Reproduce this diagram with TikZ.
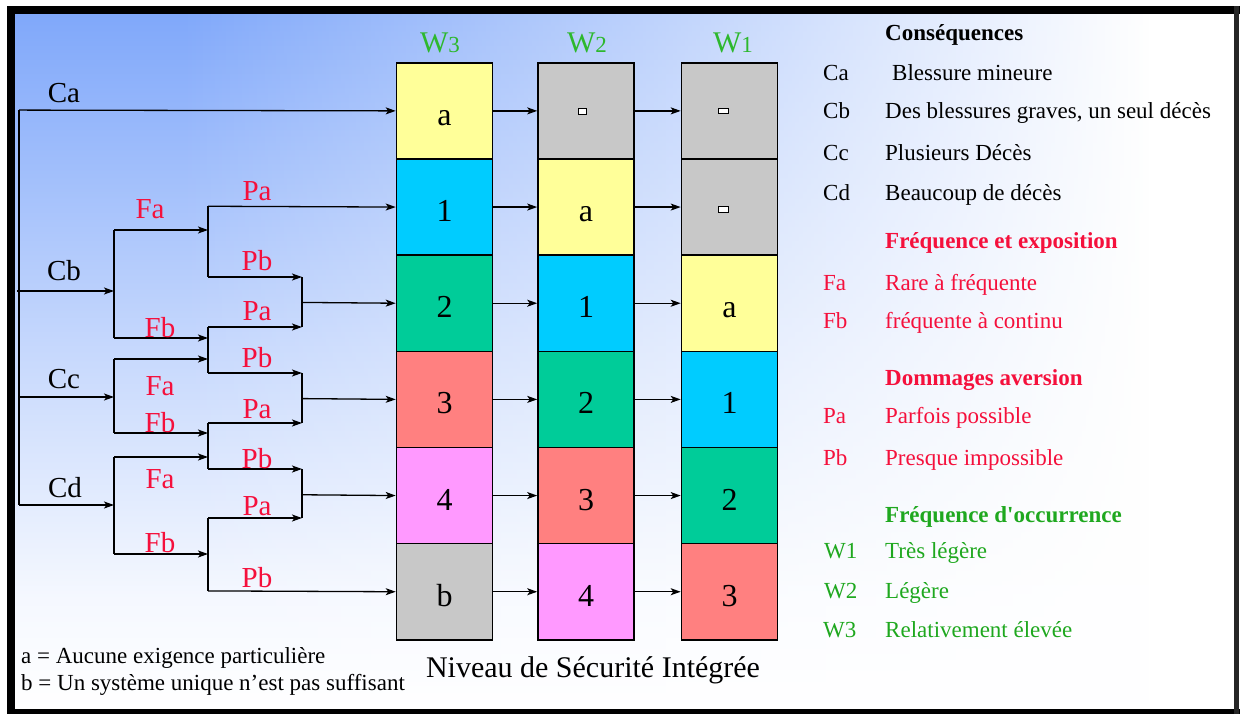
\documentclass[tikz,border=0pt]{standalone}
\usepackage{fontspec}
\setmainfont{Liberation Serif}
% same face without TeX quote ligatures, for the straight apostrophe
\newfontfamily\rawserif{Liberation Serif}
\usetikzlibrary{arrows.meta,fadings}

\definecolor{bgblue}{HTML}{80A8FA}
\definecolor{cyel}{HTML}{FFFF99}
\definecolor{ccyan}{HTML}{00CCFF}
\definecolor{cgreen}{HTML}{00CC99}
\definecolor{csalmon}{HTML}{FF8080}
\definecolor{cpink}{HTML}{FF99FF}
\definecolor{cgray}{HTML}{C8C8C8}
\definecolor{lred}{HTML}{F5103C}
\definecolor{lgreen}{HTML}{1FA81F}
\definecolor{wgreen}{HTML}{2DB82D}

% panel background: blue at the top, white towards the bottom
\pgfdeclareverticalshading{bgvert}{100bp}{color(0bp)=(white); color(25bp)=(white);
  color(33bp)=(bgblue!8); color(51bp)=(bgblue!45); color(75bp)=(bgblue); color(100bp)=(bgblue)}
% and fading to white towards the right
\tikzfading[name=towhite, left color=transparent!100, right color=transparent!0]

\tikzset{
  ln/.style={line width=1.3pt},
  arr/.style={line width=1.3pt, -{Stealth[length=10pt,width=7pt,inset=2.5pt]}},
  lbl/.style={anchor=base, inner sep=0pt, font=\fontsize{29}{34}\selectfont},
  clbl/.style={lbl, text=black},
  rlbl/.style={lbl, text=lred},
  cell/.style={draw=black, line width=1.6pt, minimum width=96pt, minimum height=96.17pt,
    inner sep=0pt, anchor=north, text height=29pt, text depth=0pt,
    font=\fontsize{32}{38}\selectfont},
  emptymark/.style={draw=black, fill=white, line width=1pt, inner sep=0pt},
  wlbl/.style={anchor=base, inner sep=0pt, text=wgreen, font=\fontsize{30}{36}\selectfont},
  legk/.style={anchor=base west, inner sep=0pt, font=\fontsize{23}{27}\selectfont},
  legh/.style={anchor=base west, inner sep=0pt, font=\fontsize{23}{27}\selectfont\bfseries},
  note/.style={anchor=base west, inner sep=0pt, font=\fontsize{23}{27}\selectfont},
}

\begin{document}
\begin{tikzpicture}[x=1pt,y=-1pt]
\useasboundingbox (0,0) rectangle (1242,715);
\fill[white] (0,0) rectangle (1242,715);

% background of the panel
\shade[shading=bgvert] (15,14) rectangle (1234,709);
\fill[white, path fading=towhite] (180,14) rectangle (1150,709);
\fill[white] (1149,14) rectangle (1234,709);

% frame
\fill[black] (7,6) rectangle (1240,14);
\fill[black] (7,6) rectangle (15,714);
\fill[black] (7,709) rectangle (1240,714);
\fill[black!85] (1234,6) rectangle (1239,714);

% columns of integrity levels
\foreach \txt/\col [count=\i] in {a/cyel,1/ccyan,2/cgreen,3/csalmon,4/cpink,b/cgray}
  \node[cell, fill=\col] (w3r\i) at (444.5,{62+(\i-1)*96.17}) {\txt};
\foreach \txt/\col [count=\i] in {/cgray,a/cyel,1/ccyan,2/cgreen,3/csalmon,4/cpink}
  \node[cell, fill=\col] (w2r\i) at (586,{62+(\i-1)*96.17}) {\txt};
\foreach \txt/\col [count=\i] in {/cgray,/cgray,a/cyel,1/ccyan,2/cgreen,3/csalmon}
  \node[cell, fill=\col] (w1r\i) at (729.5,{62+(\i-1)*96.17}) {\txt};

% small marks in the empty cells
\node[emptymark, minimum width=8pt, minimum height=6pt] (m21) at (582,111) {};
\node[emptymark, minimum width=10pt, minimum height=5pt] (m11) at (723,110.5) {};
\node[emptymark, minimum width=10pt, minimum height=6pt] (m12) at (723,209) {};

% column headings
\node[wlbl] (hw3) at (440,52) {W{\fontsize{23}{27}\selectfont 3}};
\node[wlbl] (hw2) at (587,52) {W{\fontsize{23}{27}\selectfont 2}};
\node[wlbl] (hw1) at (733,52) {W{\fontsize{23}{27}\selectfont 1}};

% arrows between columns
\foreach \i in {1,...,6} {
  \draw[arr] (w3r\i.east) -- (w2r\i.west);
  \draw[arr] (w2r\i.east) -- (w1r\i.west);
}

% ---- decision tree ----
% trunk and consequence branches
\coordinate (t1) at (19,110.08);
\coordinate (t2) at (17,291);
\coordinate (t3) at (19,397);
\coordinate (t4) at (19,505);
\coordinate (b1) at (114,291);  \coordinate (b1u) at (114,230); \coordinate (b1d) at (114,338);
\coordinate (c1) at (114,397);  \coordinate (c1u) at (114,359); \coordinate (c1d) at (114,433);
\coordinate (d1) at (114,505);  \coordinate (d1u) at (114,457); \coordinate (d1d) at (114,554);
% frequency branches end on the avoidance splitters
\coordinate (v1u) at (208,206.25); \coordinate (v1d) at (208,277);
\coordinate (v2u) at (208,327);    \coordinate (v2d) at (208,373);
\coordinate (v3u) at (208,423);    \coordinate (v3d) at (208,469);
\coordinate (v4u) at (208,518);    \coordinate (v4d) at (208,590.9);
\coordinate (f1) at (208,230); \coordinate (f2) at (208,338);
\coordinate (f3) at (208,359); \coordinate (f4) at (208,433);
\coordinate (f5) at (208,457); \coordinate (f6) at (208,554);
% merging points
\coordinate (j1u) at (302,277); \coordinate (j1d) at (302,327); \coordinate (j1) at (302,302.42);
\coordinate (j2u) at (302,373); \coordinate (j2d) at (302,423); \coordinate (j2) at (302,398.59);
\coordinate (j3u) at (302,469); \coordinate (j3d) at (302,518); \coordinate (j3) at (302,494.76);

\draw[ln] (t1) -- (t4);
\draw[arr] (t1) -- (w3r1.west);
\draw[arr] (t2) -- (b1);
\draw[arr] (t3) -- (c1);
\draw[arr] (t4) -- (d1);

\draw[ln] (b1u) -- (b1d);
\draw[ln] (c1u) -- (c1d);
\draw[ln] (d1u) -- (d1d);

\draw[arr] (b1u) -- (f1);
\draw[arr] (b1d) -- (f2);
\draw[arr] (c1u) -- (f3);
\draw[arr] (c1d) -- (f4);
\draw[arr] (d1u) -- (f5);
\draw[arr] (d1d) -- (f6);

\draw[ln] (v1u) -- (v1d);
\draw[ln] (v2u) -- (v2d);
\draw[ln] (v3u) -- (v3d);
\draw[ln] (v4u) -- (v4d);

\draw[arr] (v1u) -- (w3r2.west);
\draw[arr] (v1d) -- (j1u);
\draw[arr] (v2u) -- (j1d);
\draw[arr] (v2d) -- (j2u);
\draw[arr] (v3u) -- (j2d);
\draw[arr] (v3d) -- (j3u);
\draw[arr] (v4u) -- (j3d);
\draw[arr] (v4d) -- (w3r6.west);

\draw[ln] (j1u) -- (j1d);
\draw[ln] (j2u) -- (j2d);
\draw[ln] (j3u) -- (j3d);
\draw[arr] (j1) -- (w3r3.west);
\draw[arr] (j2) -- (w3r4.west);
\draw[arr] (j3) -- (w3r5.west);

% branch labels
\node[clbl] (lca) at (64,102) {Ca};
\node[clbl] (lcb) at (64,280) {Cb};
\node[clbl] (lcc) at (64,388) {Cc};
\node[clbl] (lcd) at (65,497) {Cd};
\node[rlbl] (lfa1) at (150,218) {Fa};
\node[rlbl] (lfb1) at (160,337) {Fb};
\node[rlbl] (lfa2) at (160,395) {Fa};
\node[rlbl] (lfb2) at (160,432) {Fb};
\node[rlbl] (lfa3) at (160,488) {Fa};
\node[rlbl] (lfb3) at (160,552) {Fb};
\node[rlbl] (lpa1) at (257,200) {Pa};
\node[rlbl] (lpb1) at (257,270) {Pb};
\node[rlbl] (lpa2) at (257,320) {Pa};
\node[rlbl] (lpb2) at (257,367) {Pb};
\node[rlbl] (lpa3) at (257,418) {Pa};
\node[rlbl] (lpb3) at (257,468) {Pb};
\node[rlbl] (lpa4) at (257,515) {Pa};
\node[rlbl] (lpb4) at (257,587) {Pb};

% notes and caption
\node[note] (na) at (21,663) {a = Aucune exigence particulière};
\node[note] (nb) at (21,690) {b = Un système unique n’est pas suffisant};
\node[anchor=base, inner sep=0pt, font=\fontsize{30}{36}\selectfont] (cap) at (593,677) {Niveau de Sécurité Intégrée};

% legend
\node[legh] (g1) at (885,40) {Conséquences};
\node[legk] (k1) at (823,80) {Ca};  \node[legk] (e1) at (892,80) {Blessure mineure};
\node[legk] (k2) at (823,118) {Cb}; \node[legk] (e2) at (885,118) {Des blessures graves, un seul décès};
\node[legk] (k3) at (823,160) {Cc}; \node[legk] (e3) at (885,160) {Plusieurs Décès};
\node[legk] (k4) at (823,200) {Cd}; \node[legk] (e4) at (885,200) {Beaucoup de décès};

\node[legh, text=lred] (g2) at (885,248) {Fréquence et exposition};
\node[legk, text=lred] (k5) at (823,290) {Fa}; \node[legk, text=lred] (e5) at (885,290) {Rare à fréquente};
\node[legk, text=lred] (k6) at (823,328) {Fb}; \node[legk, text=lred] (e6) at (885,328) {fréquente à continu};

\node[legh, text=lred] (g3) at (885,385) {Dommages aversion};
\node[legk, text=lred] (k7) at (823,423) {Pa}; \node[legk, text=lred] (e7) at (885,423) {Parfois possible};
\node[legk, text=lred] (k8) at (823,465) {Pb}; \node[legk, text=lred] (e8) at (885,465) {Presque impossible};

\node[legh, text=lgreen] (g4) at (885,522) {\rawserif\bfseries Fréquence d'occurrence};
\node[legk, text=lgreen] (k9) at (824,558) {W1};  \node[legk, text=lgreen] (e9) at (885,558) {Très légère};
\node[legk, text=lgreen] (k10) at (824,598) {W2}; \node[legk, text=lgreen] (e10) at (885,598) {Légère};
\node[legk, text=lgreen] (k11) at (823,637) {W3}; \node[legk, text=lgreen] (e11) at (885,637) {Relativement élevée};
\end{tikzpicture}
\end{document}
